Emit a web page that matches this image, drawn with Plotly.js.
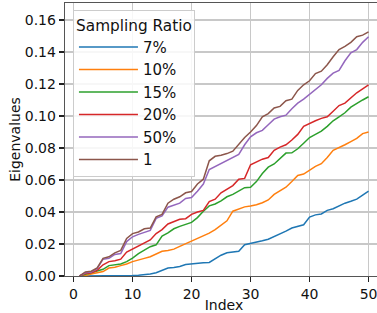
<!DOCTYPE html>
<html>
<head>
<meta charset="utf-8">
<script src="https://cdn.plot.ly/plotly-3.0.1.min.js"></script>
<style>
html,body{margin:0;padding:0;overflow:hidden;background:#fff;}
#chart{width:384px;height:313px;}
</style>
</head>
<body>
<div id="chart"></div>
<script>
const index = Array.from({length: 50}, (_, k) => k + 1);
const seriesNames = ["7%", "10%", "15%", "20%", "50%", "1"];
const colors = ["#1f77b4", "#ff7f0e", "#2ca02c", "#d62728", "#9467bd", "#8c564b"];

const ratio7 = [0,0,0,0,0,0,0,0.0001,0.0002,0.0003,0.0005,0.0008,0.0012,0.002,0.0035,0.005,0.0053,0.006,0.0072,0.0077,
  0.008,0.0083,0.0085,0.011,0.013,0.0145,0.015,0.0155,0.0195,0.0202,0.0212,0.022,0.023,0.0245,0.026,0.028,0.030,0.0308,0.032,0.0368,
  0.0382,0.0388,0.041,0.042,0.0438,0.0455,0.0467,0.048,0.0505,0.053];
const ratio10 = [0,0.0003,0.0012,0.002,0.0028,0.005,0.0055,0.0065,0.0075,0.009,0.0102,0.011,0.012,0.0135,0.0155,0.016,0.0168,0.0185,0.0202,0.0215,
  0.0235,0.025,0.0268,0.029,0.032,0.0345,0.0405,0.042,0.0432,0.0438,0.0445,0.0458,0.0475,0.051,0.0535,0.0555,0.059,0.0628,0.0637,0.066,
  0.0685,0.0702,0.074,0.0785,0.080,0.082,0.084,0.086,0.089,0.090];
const ratio15 = [0,0.001,0.002,0.003,0.0042,0.0065,0.0068,0.0075,0.009,0.0112,0.014,0.016,0.0183,0.0195,0.025,0.027,0.0295,0.031,0.0325,0.0335,
  0.0365,0.0405,0.0438,0.045,0.047,0.0495,0.051,0.053,0.0552,0.0555,0.059,0.064,0.068,0.070,0.0735,0.0768,0.077,0.0795,0.083,0.0865,
  0.0885,0.0905,0.0935,0.097,0.0995,0.102,0.1055,0.108,0.110,0.112];
const ratio20 = [0,0.0015,0.002,0.0035,0.007,0.009,0.0095,0.0105,0.015,0.017,0.019,0.021,0.0225,0.0265,0.029,0.0325,0.034,0.0355,0.0358,0.0385,
  0.040,0.041,0.0465,0.048,0.052,0.0545,0.0565,0.0605,0.061,0.0695,0.0715,0.073,0.074,0.0785,0.0805,0.082,0.085,0.0885,0.0935,0.0955,
  0.097,0.0985,0.0995,0.103,0.1065,0.108,0.1115,0.1145,0.117,0.1195];
const ratio50 = [0,0.002,0.0025,0.0045,0.0105,0.011,0.0135,0.014,0.0215,0.0245,0.026,0.0275,0.0285,0.036,0.0375,0.043,0.0442,0.0455,0.0485,0.049,
  0.053,0.0575,0.0665,0.0685,0.0705,0.072,0.074,0.076,0.082,0.087,0.0895,0.091,0.0945,0.098,0.0995,0.1005,0.1045,0.108,0.1105,0.1135,
  0.116,0.1195,0.1235,0.1268,0.1285,0.1345,0.1395,0.1415,0.146,0.1495];
const ratio100 = [0,0.0025,0.003,0.005,0.011,0.012,0.0145,0.016,0.0235,0.0265,0.0275,0.0295,0.030,0.037,0.0385,0.0455,0.048,0.0495,0.052,0.0528,
  0.0575,0.0605,0.072,0.0748,0.0755,0.0765,0.078,0.0825,0.0865,0.090,0.094,0.0995,0.1015,0.105,0.106,0.1095,0.1105,0.116,0.1195,0.122,
  0.1265,0.128,0.132,0.137,0.1415,0.1435,0.146,0.1495,0.1505,0.1525];

const xTicks = [0, 10, 20, 30, 40, 50];
const yTicks = [0, 0.02, 0.04, 0.06, 0.08, 0.10, 0.12, 0.14, 0.16];

const allSeries = [ratio7, ratio10, ratio15, ratio20, ratio50, ratio100];
const traces = allSeries.map((vals, k) => ({
  x: index, y: vals, type: 'scatter', mode: 'lines',
  name: seriesNames[k],
  line: {color: colors[k], width: 1.5}
}));

const axisCommon = {
  showline: true, mirror: true, linecolor: '#555', linewidth: 1.3,
  ticks: 'outside', ticklen: 5, tickwidth: 1.1, tickcolor: '#222',
  showgrid: true, gridcolor: '#c8c8c8', gridwidth: 1.3,
  zeroline: false, tickfont: {size: 14, color: '#111'}
};

const layout = {
  width: 384, height: 313,
  margin: {l: 65, r: 1, t: 3, b: 37},
  paper_bgcolor: '#fff', plot_bgcolor: '#fff',
  font: {family: 'DejaVu Sans, sans-serif', size: 14, color: '#111'},
  xaxis: Object.assign({}, axisCommon, {
    range: [-1.45, 52.45], tickvals: xTicks,
    title: {text: 'Index', font: {size: 14}, standoff: 4}
  }),
  yaxis: Object.assign({}, axisCommon, {
    range: [0, 0.1706], tickvals: yTicks, tickformat: '.2f',
    title: {text: 'Eigenvalues', font: {size: 14}, standoff: 0}
  }),
  showlegend: true,
  legend: {
    x: 0.025, y: 0.975, xanchor: 'left', yanchor: 'top',
    bgcolor: 'rgba(255,255,255,0.85)', bordercolor: '#cccccc', borderwidth: 1,
    font: {size: 15, color: '#111'},
    title: {text: 'Sampling Ratio', side: 'top center', font: {size: 15.3}},
    itemwidth: 59
  }
};

Plotly.newPlot('chart', traces, layout, {displayModeBar: false, staticPlot: true});
</script>
</body>
</html>
